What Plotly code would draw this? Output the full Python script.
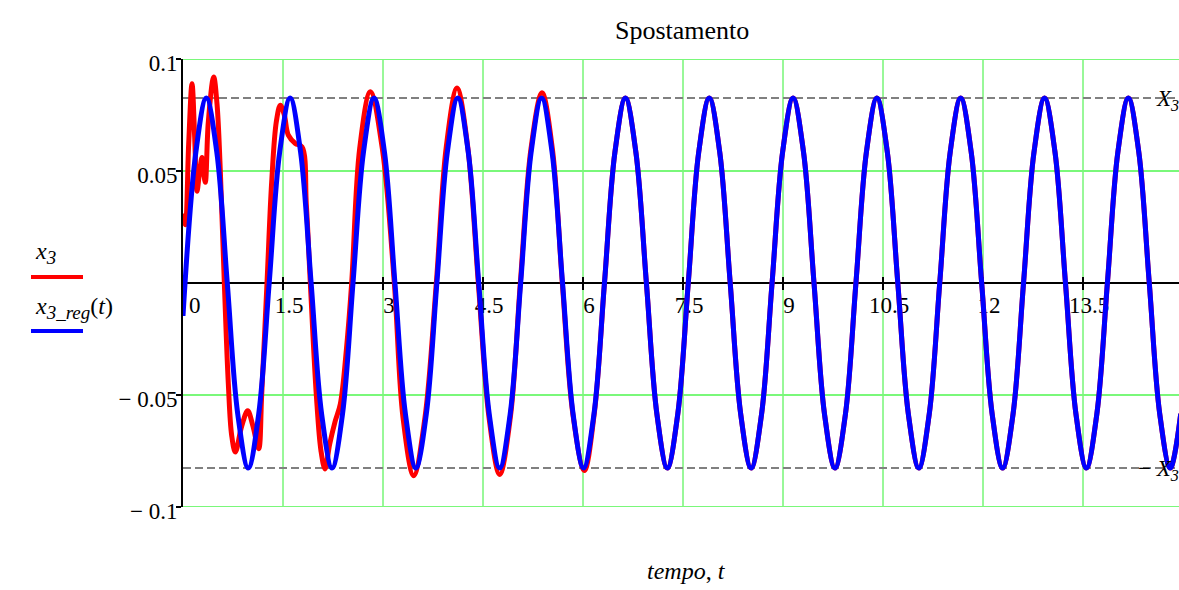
import plotly.graph_objects as go

# ---- data ---------------------------------------------------------------
# steady-state response x3_reg(t)  [s, m]
t_reg = [0.000, 0.193, 0.350, 0.507, 0.664, 0.821, 0.979, 1.136, 1.293, 1.450,
         1.607, 1.764, 1.922, 2.079, 2.236, 2.393, 2.550, 2.707, 2.865, 3.022,
         3.179, 3.336, 3.493, 3.650, 3.808, 3.965, 4.122, 4.279, 4.436, 4.593,
         4.750, 4.908, 5.065, 5.222, 5.379, 5.536, 5.693, 5.851, 6.008, 6.165,
         6.322, 6.479, 6.636, 6.793, 6.951, 7.108, 7.265, 7.422, 7.579, 7.736,
         7.894, 8.051, 8.208, 8.365, 8.522, 8.679, 8.836, 8.994, 9.151, 9.308,
         9.465, 9.622, 9.779, 9.937, 10.094, 10.251, 10.408, 10.565, 10.722, 10.880,
         11.037, 11.194, 11.351, 11.508, 11.665, 11.823, 11.980, 12.137, 12.294, 12.451,
         12.608, 12.765, 12.923, 13.080, 13.237, 13.394, 13.551, 13.708, 13.866, 14.023,
         14.180, 14.337, 14.494, 14.651, 14.809, 14.966]
x_reg = [-0.0147,
         0.0584, 0.0826, 0.0584, 0.0, -0.0584, -0.0826, -0.0584, 0.0,
         0.0584, 0.0826, 0.0584, 0.0, -0.0584, -0.0826, -0.0584, 0.0,
         0.0584, 0.0826, 0.0584, 0.0, -0.0584, -0.0826, -0.0584, 0.0,
         0.0584, 0.0826, 0.0584, 0.0, -0.0584, -0.0826, -0.0584, 0.0,
         0.0584, 0.0826, 0.0584, 0.0, -0.0584, -0.0826, -0.0584, 0.0,
         0.0584, 0.0826, 0.0584, 0.0, -0.0584, -0.0826, -0.0584, 0.0,
         0.0584, 0.0826, 0.0584, 0.0, -0.0584, -0.0826, -0.0584, 0.0,
         0.0584, 0.0826, 0.0584, 0.0, -0.0584, -0.0826, -0.0584, 0.0,
         0.0584, 0.0826, 0.0584, 0.0, -0.0584, -0.0826, -0.0584, 0.0,
         0.0584, 0.0826, 0.0584, 0.0, -0.0584, -0.0826, -0.0584, 0.0,
         0.0584, 0.0826, 0.0584, 0.0, -0.0584, -0.0826, -0.0584, 0.0,
         0.0584, 0.0826, 0.0584, 0.0, -0.0584, -0.0826, -0.0584]

# simulated response x3, transient part (afterwards it runs on x3_reg)
t_sim = [0.000, 0.035, 0.085, 0.135, 0.175, 0.210, 0.250, 0.285, 0.315, 0.335,
         0.380, 0.460, 0.510, 0.560, 0.620, 0.680, 0.730, 0.785, 0.880, 0.970,
         1.050, 1.135, 1.180, 1.260, 1.330, 1.400, 1.460, 1.520, 1.580, 1.685,
         1.785, 1.850, 1.910, 2.000, 2.070, 2.130, 2.200, 2.280, 2.360, 2.450,
         2.530, 2.650, 2.810, 2.990, 3.170, 3.300, 3.460, 3.630, 3.800, 3.950,
         4.110, 4.270, 4.430, 4.590, 4.750, 4.910, 5.060, 5.220, 5.385, 5.540,
         5.690, 5.850, 6.020, 6.170]
x_sim = [0.031, 0.026, 0.062, 0.089, 0.065, 0.041, 0.050, 0.056, 0.048, 0.045,
         0.072, 0.092, 0.080, 0.050, 0.000, -0.045, -0.068, -0.0755, -0.064, -0.057,
         -0.064, -0.074, -0.050, 0.000, 0.045, 0.072, 0.0794, 0.075, 0.066, 0.0623,
         0.0608, 0.035, 0.000, -0.050, -0.075, -0.083, -0.072, -0.062, -0.054, -0.030,
         0.000, 0.060, 0.0854, 0.060, 0.000, -0.060, -0.086, -0.060, 0.000, 0.061,
         0.087, 0.061, 0.000, -0.060, -0.0855, -0.060, 0.000, 0.060, 0.0849, 0.060,
         0.000, -0.059, -0.0837, -0.058]

X3 = 0.0826  # steady-state amplitude

x_ticks = [0, 1.5, 3, 4.5, 6, 7.5, 9, 10.5, 12, 13.5]
x_labels = ["\u00a0\u00a00", "1.5", "3", "4.5", "6", "7.5", "9", "10.5", "12", "13.5"]
y_ticks = [-0.1, -0.05, 0.05, 0.1]
y_labels = ["\u2212 0.1", "\u2212 0.05", "0.05", "0.1"]
y_lim = [-0.1, 0.1]
x_lim = [0, 14.94]

# full x3 series: transient followed by the steady-state samples
t_x3 = t_sim + [t for t in t_reg if t > t_sim[-1]]
v_x3 = x_sim + [v for t, v in zip(t_reg, x_reg) if t > t_sim[-1]]

# ---- figure -------------------------------------------------------------
W, H = 1179, 590
L, R, T, B = 183, 0, 59, 83
PW, PH = W - L - R, H - T - B
SERIF = "Liberation Serif"
GRID_V = "#33f033"
GRID_H = "#7af87a"


def px(x):
    return (x - L) / PW


def py(y):
    return (H - B - y) / PH


fig = go.Figure()
fig.add_trace(go.Scatter(x=t_x3, y=v_x3, mode="lines",
                         line=dict(color="#ff0000", width=5, shape="spline"),
                         hoverinfo="skip"))
fig.add_trace(go.Scatter(x=t_reg, y=x_reg, mode="lines",
                         line=dict(color="#0000ff", width=5, shape="spline"),
                         hoverinfo="skip"))

# vertical grid lines at the x ticks
for xt in x_ticks[1:]:
    fig.add_shape(type="line", xref="x", x0=xt, x1=xt, yref="paper", y0=0, y1=1,
                  line=dict(color=GRID_V, width=1), layer="below")

# frame lines of the grid at the y limits
for lim in y_lim:
    fig.add_shape(type="line", xref="paper", x0=0, x1=1, yref="y", y0=lim, y1=lim,
                  line=dict(color=GRID_H, width=2), layer="below")

# upper half of the x ticks (they cross the axis line)
for xt in x_ticks[1:]:
    fig.add_shape(type="line", xref="x", x0=xt, x1=xt, yref="y", ysizemode="pixel",
                  yanchor=0, y0=0, y1=6, line=dict(color="black", width=2), layer="below")

# dashed amplitude levels +X3 / -X3
for lvl in (X3, -X3):
    fig.add_shape(type="line", xref="paper", x0=0, x1=1, yref="y", y0=lvl, y1=lvl,
                  line=dict(color="#808080", width=2, dash="8px,4px"), layer="below")

fig.add_annotation(x=1, xref="paper", y=X3, yref="y", xanchor="right", yanchor="middle",
                   text="<i>X</i><sub><i>3</i></sub>", showarrow=False, xshift=2, yshift=-2,
                   font=dict(family=SERIF, size=23, color="black"))
fig.add_annotation(x=1, xref="paper", y=-X3, yref="y", xanchor="right", yanchor="middle",
                   text="\u2212 <i>X</i><sub><i>3</i></sub>", showarrow=False, xshift=2, yshift=-2,
                   font=dict(family=SERIF, size=23, color="black"))

# title and axis caption
fig.add_annotation(x=px(681.5), y=py(30), xref="paper", yref="paper",
                   text="Spostamento", showarrow=False, xanchor="center", yanchor="middle",
                   font=dict(family=SERIF, size=26, color="black"))
fig.add_annotation(x=px(686.5), y=py(571), xref="paper", yref="paper",
                   text="<i>tempo</i>, <i>t</i>", showarrow=False, xanchor="center", yanchor="middle",
                   font=dict(family=SERIF, size=24, color="black"))

# legend on the left: label with its line sample beneath
fig.add_annotation(x=px(33), y=py(253), xref="paper", yref="paper",
                   text="<i>x</i><sub><span style=\"font-size:19px\"><i>3</i></span></sub>",
                   showarrow=False, xanchor="left", yanchor="middle",
                   font=dict(family=SERIF, size=24, color="black"))
fig.add_annotation(x=px(33), y=py(308), xref="paper", yref="paper",
                   text="<i>x</i><sub><span style=\"font-size:19px\"><i>3_reg</i></span></sub>(<i>t</i>)",
                   showarrow=False, xanchor="left", yanchor="middle",
                   font=dict(family=SERIF, size=24, color="black"))
fig.add_shape(type="line", xref="paper", yref="paper", x0=px(31), x1=px(83), y0=py(277), y1=py(277),
              line=dict(color="#ff0000", width=4))
fig.add_shape(type="line", xref="paper", yref="paper", x0=px(31), x1=px(83), y0=py(331), y1=py(331),
              line=dict(color="#0000ff", width=4))

fig.update_layout(
    width=W, height=H,
    margin=dict(l=L, r=R, t=T, b=B, pad=0),
    paper_bgcolor="white", plot_bgcolor="white",
    font=dict(family=SERIF, size=23, color="black"),
    showlegend=False,
    xaxis=dict(range=x_lim, tickmode="array", tickvals=x_ticks, ticktext=x_labels,
               showgrid=False, zeroline=False,
               showline=True, linecolor="black", linewidth=2,
               anchor="free", position=0.5, ticks="outside", ticklen=6, tickwidth=2,
               tickcolor="black", ticklabelshift=6, ticklabelstandoff=-5,
               layer="below traces",
               tickfont=dict(family=SERIF, size=23, color="black")),
    yaxis=dict(range=y_lim, tickmode="array", tickvals=y_ticks, ticktext=y_labels,
               showgrid=True, gridcolor=GRID_H, gridwidth=2, zeroline=False,
               showline=True, linecolor="black", linewidth=2,
               ticks="outside", ticklen=5, tickwidth=2, tickcolor="black",
               ticklabelshift=4, ticklabelstandoff=-6, layer="below traces",
               tickfont=dict(family=SERIF, size=23, color="black")),
)

fig.write_html("out.html")
